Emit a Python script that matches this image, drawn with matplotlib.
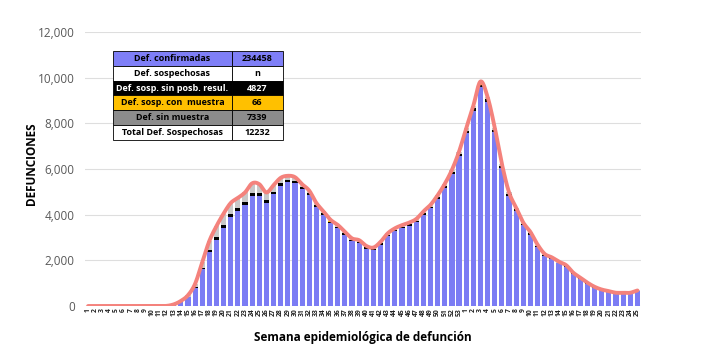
import numpy as np
import matplotlib
matplotlib.use("Agg")
import matplotlib.pyplot as plt

# -----------------------------
# DATOS
# -----------------------------

semanas = [str(w) for w in range(1, 54)] + [str(w) for w in range(1, 26)]

confirmadas = [
    0, 0, 0, 0, 0, 0, 0, 0, 0, 0, 0, 5, 55, 180, 390, 810, 1600, 2360, 2910, 3430,
    3900, 4160, 4440, 4820, 4820, 4520, 4890, 5270, 5410, 5390, 5120, 4870, 4350, 3990, 3640,
    3420, 3130, 2840, 2765, 2515, 2445, 2685, 3050, 3270, 3410, 3520, 3675, 3995, 4280, 4685,
    5180, 5775, 6560,
    7570, 8560, 9600, 8955, 7620, 6050, 4830, 4170, 3535, 3130, 2595, 2190, 2055, 1870, 1720,
    1405, 1190, 970, 805, 685, 620, 550, 550, 550, 650,
]

sin_resultado = [
    0, 0, 0, 0, 0, 0, 0, 0, 0, 0, 0, 0, 5, 10, 20, 40, 60, 90, 110, 120,
    130, 130, 130, 130, 130, 120, 120, 110, 110, 100, 90, 80, 70, 70, 60,
    60, 60, 60, 55, 55, 55, 55, 60, 60, 60, 60, 65, 65, 70, 75,
    80, 85, 90,
    100, 100, 100, 95, 90, 80, 70, 60, 55, 50, 45, 40, 35, 30, 30,
    25, 20, 20, 15, 15, 10, 10, 10, 10, 10,
]

con_muestra = [0] * 20 + [3, 3, 4, 4, 4, 3, 3, 3, 2, 2] + [1] * 23 + [2] * 10 + [0] * 15

sin_muestra = [
    0, 0, 0, 0, 0, 0, 0, 0, 0, 0, 0, 0, 10, 30, 60, 120, 250, 400, 480, 500,
    480, 440, 400, 420, 380, 330, 280, 230, 180, 150, 120, 100, 90, 80, 70,
    70, 60, 60, 60, 60, 60, 70, 70, 70, 70, 70, 70, 80, 80, 90,
    90, 100, 110,
    110, 110, 130, 100, 100, 90, 80, 70, 60, 60, 50, 50, 40, 40, 40,
    30, 30, 30, 20, 20, 20, 20, 20, 20, 20,
]

tabla_texto = [
    ["Def. confirmadas", "234458"],
    ["Def. sospechosas", "n"],
    ["Def. sosp. sin posb. resul.", "4827"],
    ["Def. sosp. con  muestra", "66"],
    ["Def. sin muestra", "7339"],
    ["Total Def. Sospechosas", "12232"],
]

# -----------------------------
# COLORES
# -----------------------------

AZUL = "#7b7cf4"
NEGRO = "#000000"
NARANJA = "#ffc000"
GRIS = "#c8c8c8"
ROJO = "#f4827c"

plt.rcParams["font.family"] = ["Open Sans", "DejaVu Sans"]


def catmull_rom(x, y, n=12):
    # curva suavizada tipo Excel
    x = np.asarray(x, float)
    y = np.asarray(y, float)
    px = np.concatenate([[2 * x[0] - x[1]], x, [2 * x[-1] - x[-2]]])
    py = np.concatenate([[y[0]], y, [y[-1]]])
    xs, ys = [], []
    for i in range(1, len(px) - 2):
        t = np.linspace(0, 1, n, endpoint=False)
        for arr, out in ((px, xs), (py, ys)):
            p0, p1, p2, p3 = arr[i - 1], arr[i], arr[i + 1], arr[i + 2]
            out.append(0.5 * ((2 * p1) + (-p0 + p2) * t
                              + (2 * p0 - 5 * p1 + 4 * p2 - p3) * t ** 2
                              + (-p0 + 3 * p1 - 3 * p2 + p3) * t ** 3))
    xs.append([x[-1]])
    ys.append([y[-1]])
    return np.concatenate(xs), np.concatenate(ys)


def main():
    conf = np.array(confirmadas, float)
    sres = np.array(sin_resultado, float)
    cmue = np.array(con_muestra, float)
    smue = np.array(sin_muestra, float)
    total = conf + sres + cmue + smue

    x = np.arange(len(semanas))

    fig = plt.figure(figsize=(7.27, 3.59), dpi=100, facecolor="white")
    ax = fig.add_axes([84.5 / 727, 53 / 359, 556.5 / 727, 274 / 359])

    w = 0.72
    ax.bar(x, conf, width=w, color=AZUL, zorder=2)
    ax.bar(x, sres, width=w, bottom=conf, color=NEGRO, zorder=2)
    ax.bar(x, cmue, width=w, bottom=conf + sres, color=NARANJA, zorder=2)
    ax.bar(x, smue, width=w, bottom=conf + sres + cmue, color=GRIS, zorder=2)

    sx, sy = catmull_rom(x, total)
    ax.plot(sx, sy, color=ROJO, linewidth=2.8, solid_capstyle="round", zorder=3)

    ax.set_xlim(-0.5, len(semanas) - 0.5)
    ax.set_ylim(0, 12000)
    ax.set_yticks(np.arange(0, 12001, 2000))
    ax.set_yticklabels([f"{v:,}" for v in range(0, 12001, 2000)],
                       fontsize=8.5, color="#595959")
    ax.set_xticks(x)
    ax.set_xticklabels(semanas, rotation=90, fontsize=4.9,
                       fontweight="bold", color="#222222")
    ax.tick_params(axis="x", length=0, pad=1.5)
    ax.tick_params(axis="y", length=0, pad=7)

    ax.grid(axis="y", color="#dedede", linewidth=0.8, zorder=0)
    for s in ax.spines.values():
        s.set_visible(False)

    ax.set_ylabel("DEFUNCIONES", fontsize=8.5, fontweight="bold")
    ax.yaxis.set_label_coords(-0.084, 0.52)
    ax.set_xlabel("Semana epidemiológica de defunción", fontsize=8.5,
                  fontweight="bold", labelpad=11)

    colores = [
        ["#7f7ff7", "#7f7ff7"],
        ["white", "white"],
        ["black", "black"],
        [NARANJA, NARANJA],
        ["#8c8c8c", "#8c8c8c"],
        ["white", "white"],
    ]
    tabla = ax.table(cellText=tabla_texto, cellColours=colores,
                     colWidths=[0.698, 0.302], cellLoc="center",
                     bbox=[0.0512, 0.6058, 0.3055, 0.325], zorder=5)
    tabla.auto_set_font_size(False)
    for (r, c), cell in tabla.get_celld().items():
        cell.set_edgecolor("black")
        cell.set_linewidth(0.6)
        txt = cell.get_text()
        txt.set_fontsize(6.5)
        txt.set_fontweight("bold")
        txt.set_color("white" if r == 2 else "black")

    fig.savefig("out.png", dpi=100, facecolor="white")
    plt.close(fig)


if __name__ == "__main__":
    main()
